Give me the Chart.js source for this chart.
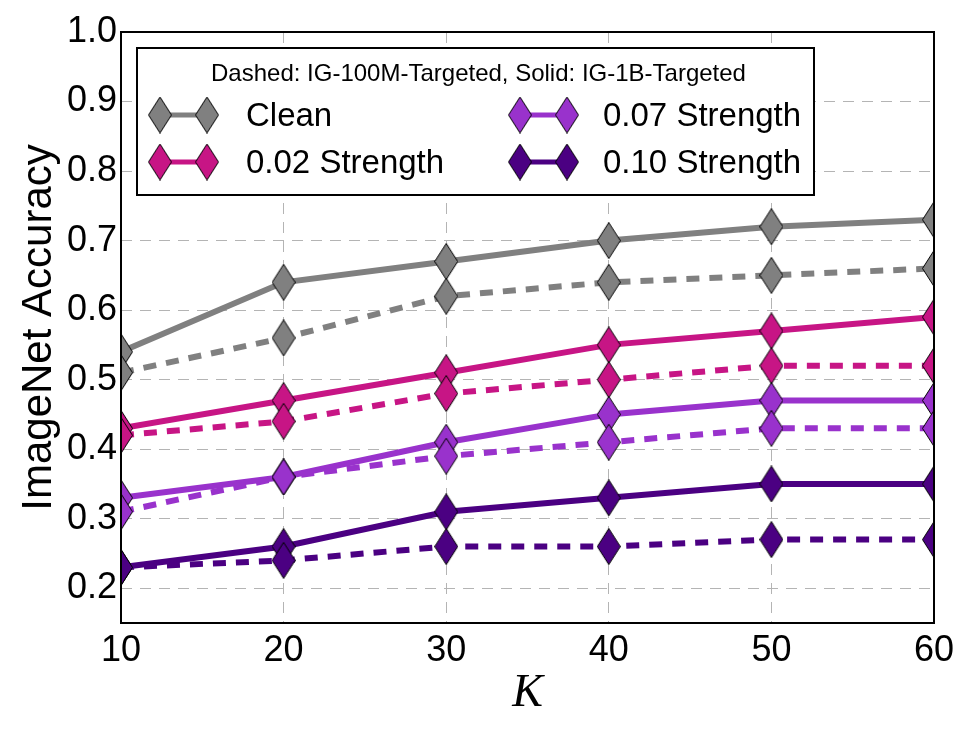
<!DOCTYPE html>
<html>
<head>
<meta charset="utf-8">
<script src="https://cdn.jsdelivr.net/npm/chart.js@4.4.0/dist/chart.umd.min.js"></script>
<style>
  html, body { margin: 0; padding: 0; background: #fff; }
  canvas { display: block; }
</style>
</head>
<body>
<canvas id="chart" width="970" height="729"></canvas>
<script>
// valores
const kValues = [10, 20, 30, 40, 50, 60];
const yTicks = [0.2, 0.3, 0.4, 0.5, 0.6, 0.7, 0.8, 0.9, 1.0];
const xTicks = [10, 20, 30, 40, 50, 60];

const cleanSolid  = [0.54, 0.64, 0.67, 0.70, 0.72, 0.73];
const cleanDashed = [0.51, 0.56, 0.62, 0.64, 0.65, 0.66];
const s002Solid   = [0.43, 0.47, 0.51, 0.55, 0.57, 0.59];
const s002Dashed  = [0.42, 0.44, 0.48, 0.50, 0.52, 0.52];
const s007Solid   = [0.33, 0.36, 0.41, 0.45, 0.47, 0.47];
const s007Dashed  = [0.31, 0.36, 0.39, 0.41, 0.43, 0.43];
const s010Solid   = [0.23, 0.26, 0.31, 0.33, 0.35, 0.35];
const s010Dashed  = [0.23, 0.24, 0.26, 0.26, 0.27, 0.27];

const seriesNames = ['Clean', '0.02 Strength', '0.07 Strength', '0.10 Strength'];
const seriesColors = ['#808080', '#c71585', '#9932cc', '#4b0082'];
const legendTitle = 'Dashed: IG-100M-Targeted, Solid: IG-1B-Targeted';

// losango fino (como o marcador "d" do matplotlib)
function diamond(color) {
    const c = document.createElement('canvas');
    c.width = 24; c.height = 37;
    const g = c.getContext('2d');
    g.beginPath();
    g.moveTo(12, 0.5);
    g.lineTo(23.5, 18.5);
    g.lineTo(12, 36.5);
    g.lineTo(0.5, 18.5);
    g.closePath();
    g.fillStyle = color;
    g.fill();
    g.lineWidth = 1;
    g.strokeStyle = '#000';
    g.stroke();
    return c;
}
const markers = seriesColors.map(diamond);

function toPoints(values) {
    return values.map((v, i) => ({ x: kValues[i], y: v }));
}

const solidData = [cleanSolid, s002Solid, s007Solid, s010Solid];
const dashedData = [cleanDashed, s002Dashed, s007Dashed, s010Dashed];

let datasets = [];
for (let i = 0; i < seriesNames.length; i++) {
    datasets.push({ label: seriesNames[i] + ' (IG-1B)', data: toPoints(solidData[i]), dash: [], s: i });
    datasets.push({ label: seriesNames[i] + ' (IG-100M)', data: toPoints(dashedData[i]), dash: [13, 10], s: i });
}
datasets = datasets.map((d, idx) => ({
    label: d.label,
    data: d.data,
    borderColor: seriesColors[d.s],
    backgroundColor: seriesColors[d.s],
    borderWidth: 6,
    borderDash: d.dash,
    borderCapStyle: 'butt',
    pointStyle: markers[d.s],
    pointRadius: 12,
    tension: 0,
    order: 7 - idx // o último fica por cima
}));

// moldura do gráfico
const framePlugin = {
    id: 'frame',
    afterDatasetsDraw(chart) {
        const { ctx, chartArea: a } = chart;
        ctx.save();
        ctx.strokeStyle = '#000';
        ctx.lineWidth = 2;
        ctx.strokeRect(a.left, a.top, a.right - a.left, a.bottom - a.top);
        ctx.restore();
    }
};

// legenda em caixa com duas colunas
const legendPlugin = {
    id: 'boxLegend',
    afterDraw(chart) {
        const ctx = chart.ctx;
        const box = { x: 137, y: 48, w: 677, h: 147 };
        ctx.save();
        ctx.fillStyle = '#fff';
        ctx.fillRect(box.x, box.y, box.w, box.h);
        ctx.strokeStyle = '#000';
        ctx.lineWidth = 2;
        ctx.strokeRect(box.x, box.y, box.w, box.h);

        ctx.fillStyle = '#000';
        ctx.textAlign = 'center';
        ctx.textBaseline = 'middle';
        ctx.font = '24px "Liberation Sans", Arial, sans-serif';
        ctx.fillText(legendTitle, box.x + box.w / 2 + 3, 74);

        const cols = [{ m: 160, t: 246 }, { m: 520, t: 603 }];
        const rows = [115, 162];
        ctx.font = '33px "Liberation Sans", Arial, sans-serif';
        ctx.textAlign = 'left';
        for (let i = 0; i < seriesNames.length; i++) {
            const col = cols[Math.floor(i / 2)];
            const y = rows[i % 2];
            ctx.strokeStyle = seriesColors[i];
            ctx.lineWidth = 5;
            ctx.beginPath();
            ctx.moveTo(col.m, y);
            ctx.lineTo(col.m + 47, y);
            ctx.stroke();
            const mk = markers[i];
            ctx.drawImage(mk, col.m - mk.width / 2, y - mk.height / 2);
            ctx.drawImage(mk, col.m + 47 - mk.width / 2, y - mk.height / 2);
            ctx.fillStyle = '#000';
            ctx.fillText(seriesNames[i], col.t, y + 2);
        }
        ctx.restore();
    }
};

const tickFont = { family: '"Liberation Sans", Arial, sans-serif', size: 36 };
const gridStyle = { color: '#b4b4b4', lineWidth: 1, drawTicks: false };

new Chart(document.getElementById('chart').getContext('2d'), {
    type: 'line',
    data: { datasets: datasets },
    options: {
        responsive: false,
        animation: false,
        events: [],
        layout: { padding: { top: 32, right: 36, left: 0, bottom: 0 } },
        plugins: { legend: { display: false }, tooltip: { enabled: false } },
        scales: {
            x: {
                type: 'linear',
                min: 10,
                max: 60,
                afterBuildTicks: s => { s.ticks = xTicks.map(v => ({ value: v })); },
                afterFit: s => { s.height = 106; },
                grid: gridStyle,
                border: { display: false, dash: [11, 8] },
                ticks: { font: tickFont, color: '#000', padding: 6, maxRotation: 0 },
                title: {
                    display: true,
                    text: 'K',
                    color: '#000',
                    font: { family: '"Liberation Serif", "DejaVu Serif", serif', size: 46, style: 'italic' },
                    padding: { bottom: 7 }
                }
            },
            y: {
                min: 0.15,
                max: 1.0,
                afterBuildTicks: s => { s.ticks = yTicks.map(v => ({ value: v })); },
                afterFit: s => { s.width = 121; },
                grid: gridStyle,
                border: { display: false, dash: [11, 8] },
                ticks: { font: tickFont, color: '#000', padding: 4, callback: v => v.toFixed(1) },
                title: {
                    display: true,
                    text: 'ImageNet Accuracy',
                    color: '#000',
                    font: { family: '"Liberation Sans", Arial, sans-serif', size: 42 },
                    padding: { top: 14 }
                }
            }
        }
    },
    plugins: [framePlugin, legendPlugin]
});
</script>
</body>
</html>
